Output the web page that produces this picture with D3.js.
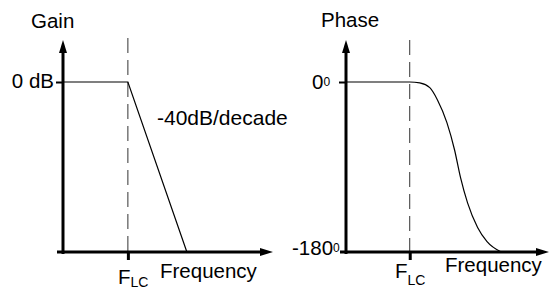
<!DOCTYPE html>
<html>
<head>
<meta charset="utf-8">
<script src="https://cdn.jsdelivr.net/npm/d3@7"></script>
<style>
  body { margin: 0; background: #fff; }
  text { font-family: Arial, "Liberation Sans", sans-serif; fill: #000; }
</style>
</head>
<body>
<svg id="chart" width="550" height="290"></svg>
<script>
// data: frequency in decades relative to F_LC
var gainDecades = [-1.1, 0, 1.0];
var gainDb = [0, 0, -40];
var phaseDecades = [-1.08, 0, 0.17, 0.34, 0.47, 0.63, 0.76, 0.86, 0.98, 1.15, 1.31, 1.55];
var phaseDeg = [0, 0, -1, -6, -19, -43, -72, -101, -128, -154, -169, -180];

var svg = d3.select("#chart");

// scales
var xGain = d3.scaleLinear().domain([-1.1, 2.46]).range([63, 273]);
var yGain = d3.scaleLinear().domain([-40, 0]).range([252, 82]);
var xPhase = d3.scaleLinear().domain([-1.08, 2.36]).range([346, 549]);
var yPhase = d3.scaleLinear().domain([-180, 0]).range([252, 82]);

var axisTop = 40;

function drawAxes(x, y, yMin, dashTop) {
    var x0 = x.range()[0], x1 = x.range()[1];
    var yb = y(yMin);
    // dashed F_LC marker
    svg.append("line")
        .attr("x1", x(0)).attr("x2", x(0))
        .attr("y1", dashTop).attr("y2", yb)
        .attr("stroke", "#333").attr("stroke-width", 1)
        .attr("stroke-dasharray", "15,7");
    // y axis shaft + arrow
    svg.append("line")
        .attr("x1", x0).attr("x2", x0)
        .attr("y1", axisTop + 10).attr("y2", yb + 2)
        .attr("stroke", "#000").attr("stroke-width", 3);
    svg.append("path")
        .attr("d", "M" + x0 + "," + axisTop + "L" + (x0 - 4) + "," + (axisTop + 13) +
              "L" + (x0 + 4) + "," + (axisTop + 13) + "Z")
        .attr("fill", "#000");
    // x axis shaft + arrow
    svg.append("line")
        .attr("x1", x0 - 6).attr("x2", x1 - 10)
        .attr("y1", yb).attr("y2", yb)
        .attr("stroke", "#000").attr("stroke-width", 3);
    svg.append("path")
        .attr("d", "M" + x1 + "," + yb + "L" + (x1 - 13) + "," + (yb - 4) +
              "L" + (x1 - 13) + "," + (yb + 4) + "Z")
        .attr("fill", "#000");
    // ticks
    var ty = svg.append("g").attr("transform", "translate(" + x0 + ",0)")
        .call(d3.axisLeft(y).tickValues([0]).tickSize(7).tickFormat(""));
    ty.select(".domain").remove();
    ty.selectAll("line").attr("stroke-width", 2);
    var tx = svg.append("g").attr("transform", "translate(0," + yb + ")")
        .call(d3.axisBottom(x).tickValues([0]).tickSize(8).tickFormat(""));
    tx.select(".domain").remove();
    tx.selectAll("line").attr("stroke-width", 3);
}

drawAxes(xGain, yGain, -40, 38);
drawAxes(xPhase, yPhase, -180, 40);

// gain asymptote
var gainPts = gainDecades.map(function(d, i) { return [xGain(d), yGain(gainDb[i])]; });
svg.append("path")
    .attr("d", d3.line()(gainPts))
    .attr("fill", "none").attr("stroke", "#000").attr("stroke-width", 1.2);

// phase curve
var phasePts = phaseDecades.map(function(d, i) { return [xPhase(d), yPhase(phaseDeg[i])]; });
svg.append("path")
    .attr("d", d3.line().curve(d3.curveMonotoneX)(phasePts))
    .attr("fill", "none").attr("stroke", "#000").attr("stroke-width", 1.2);

// labels
function label(x, y, str, size, anchor) {
    return svg.append("text").attr("x", x).attr("y", y)
        .attr("font-size", size).attr("text-anchor", anchor || "start").text(str);
}
label(31, 28, "Gain", 20.5);
label(321, 27, "Phase", 20.5);
label(54, 88, "0 dB", 20.5, "end");
label(157, 125, "-40dB/decade", 21);
label(160, 278, "Frequency", 20.5);
label(445, 272, "Frequency", 20.5);

// F_LC labels
var f1 = label(118, 284, "F", 20.5);
f1.append("tspan").attr("font-size", 14).attr("dy", 3).text("LC");
var f2 = label(395, 278, "F", 20.5);
f2.append("tspan").attr("font-size", 14).attr("dy", 7).text("LC");

// degree labels
var z = label(312, 89, "0", 20.5);
z.append("tspan").attr("font-size", 12).attr("dy", -3).text("0");
var m = label(292, 255, "-180", 20.5);
m.append("tspan").attr("font-size", 12).attr("dy", -3).text("0");
</script>
</body>
</html>
